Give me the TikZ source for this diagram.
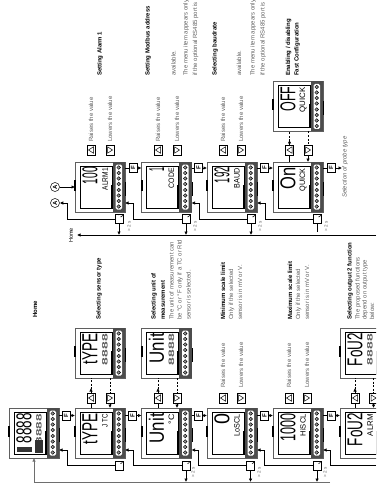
\documentclass[tikz,border=0pt]{standalone}
\usepackage{fontspec}
\setmainfont{Liberation Sans}
\usepackage{xcolor}
\usepackage{tikz}
\usetikzlibrary{arrows.meta,positioning}
\definecolor{metergrey}{RGB}{95,95,95}
\definecolor{notegrey}{RGB}{95,95,95}
\definecolor{wiregrey}{RGB}{110,110,110}
\newcommand{\tinydigits}{\textcolor{metergrey}{\textbf{8888}}}
\tikzset{
  wire/.style={line width=0.6pt, draw=black},
  flow/.style={-{Latex[length=3.5pt,width=3.5pt]}, line width=0.6pt, draw=black},
  softdash/.style={line width=0.6pt, draw=black, dash pattern=on 2pt off 1.6pt},
  softflow/.style={flow, dash pattern=on 2pt off 1.6pt},
  frame/.style={draw=metergrey, line width=1pt, fill=white, minimum size=50pt, inner sep=0pt, outer sep=0pt},
  keybox/.style={draw=black, line width=0.7pt, fill=white, minimum width=8pt, minimum height=10pt, inner sep=0pt, outer sep=0pt},
  upkey/.style={keybox, path picture={\draw[line width=0.5pt] (-2.5,0) -- (2.5,-3.2) -- (2.5,3.2) -- cycle;}},
  downkey/.style={keybox, path picture={\draw[line width=0.5pt] (2.5,0) -- (-2.5,-3.2) -- (-2.5,3.2) -- cycle;}},
  fkey/.style={keybox, font=\fontsize{6}{6}\selectfont\bfseries, rotate=90, minimum width=9pt, minimum height=8pt},
  loopkey/.style={keybox, minimum height=9pt, path picture={\draw[line width=0.6pt] (1.5,-2) arc (90:-180:2);}},
  ringmark/.style={draw=black, circle, line width=0.5pt, fill=white, minimum size=9pt, inner sep=0pt, rotate=90, font=\fontsize{6}{6}\selectfont\bfseries},
  note/.style={rotate=90, anchor=west, inner sep=0pt, font=\fontsize{6}{7}\selectfont, text=notegrey},
  heading/.style={note, text=black, font=\fontsize{6}{7}\selectfont\bfseries},
  holdnote/.style={rotate=90, inner sep=0pt, font=\fontsize{4.6}{5}\selectfont, text=notegrey}
}
% name, centre x, centre y, big text width, big text, small text width, small text
\newcommand{\meter}[7]{%
  \begin{scope}[shift={(#2,#3)}]
    \node[frame] (#1) at (0,0) {};
    \draw[line width=0.5pt] (-20,-21) rectangle (12,21);
    \fill[black] (-26,-7) rectangle (-24,4);
    \fill[black] (24,-5) rectangle (26,9);
    \fill[black] (10.8,-2) rectangle (12.4,21);
    \fill[metergrey!80!black] (12.5,-25) rectangle (25,25);
    \fill[white, rounded corners=1.5pt] (15.5,-22.5) rectangle (22,22.5);
    \foreach \k in {-19.5,-14,-8.5,-3,3,8.5,14,19.5}
      \draw[fill=black!40, line width=0.4pt] (18.7,\k) circle (1.8);
    \node[rotate=90, anchor=east, inner sep=0pt] (#1big) at (-10,-20) {\resizebox{#4pt}{15pt}{#5}};
    \node[rotate=90, anchor=east, inner sep=0pt] (#1small) at (5,-19) {\resizebox{#6pt}{5.5pt}{#7}};
  \end{scope}%
}
\begin{document}
\begin{tikzpicture}[x=1pt, y=-1pt]
  \useasboundingbox (0,0) rectangle (376,489);
  \clip (0,0) rectangle (376,489);

  % lower row
  \meter{home}{34}{433}{30}{8888}{30}{\tinydigits}
  \meter{typeset}{100}{433}{31}{tYPE}{13}{J TC}
  \meter{typeval}{100}{353}{31}{tYPE}{31}{\tinydigits}
  \meter{unitset}{166.5}{433}{30}{Unit}{10}{°C}
  \meter{unitval}{166.5}{353}{30}{Unit}{31}{\tinydigits}
  \meter{loscl}{232}{433}{11}{0}{22}{LoSCL}
  \meter{hiscl}{298}{433}{28}{1000}{22}{HiSCL}
  \meter{fouset}{365}{433}{33}{FoU2}{22}{ALRM}
  \meter{fouval}{365}{353}{33}{FoU2}{31}{\tinydigits}

  % upper row
  \meter{alarm}{100}{187}{17}{100}{22}{ALRM1}
  \meter{code}{166.5}{187}{4}{1}{20}{CODE}
  \meter{baud}{232}{187}{16}{192}{20}{BAUD}
  \meter{quick}{298}{187}{22}{On}{23}{QUICK}
  \meter{quickoff}{298}{106.5}{25}{OFF}{25}{QUICK}

  % panel of the home display
  \fill[black!80] (35,440) rectangle (43,453);
  \fill[black!80] (17,447) rectangle (32,452);

  % F keys
  \node[fkey] (fhome) at (66,415.5) {F};
  \node[fkey] (ftype) at (132.5,415.5) {F};
  \node[fkey] (funit) at (198.5,415.5) {F};
  \node[fkey] (flo) at (264.5,415.5) {F};
  \node[fkey] (fhi) at (331,415.5) {F};
  \node[fkey] (falarm) at (133,168) {F};
  \node[fkey] (fcode) at (198.5,168) {F};
  \node[fkey] (fbaud) at (264.5,168) {F};
  \node[fkey] (fquick) at (331,168) {F};
  \coordinate (quickout) at (342,168);

  \foreach \a/\f/\b in {home/fhome/typeset, typeset/ftype/unitset, unitset/funit/loscl, loscl/flo/hiscl, hiscl/fhi/fouset, alarm/falarm/code, code/fcode/baud, baud/fbaud/quick} {
    \draw[wire] (\a.east |- \f) -- (\f);
    \draw[flow] (\f) -- (\b.west |- \f);
  }
  \draw[wire] (quick.east |- fquick) -- (fquick);
  \draw[flow] (fquick) -- (quickout);

  % up and down keys
  \foreach \nm/\xa/\xb/\yy in {alarm/91/110/150, code/158/177/150, baud/223/241/150, quick/289.5/308/150, typeset/91/110/398, unitset/158/177/398, loscl/223/241/398, hiscl/289/307/398, fouset/355/373.5/398} {
    \node[upkey] (\nm up) at (\xa,\yy) {};
    \node[downkey] (\nm down) at (\xb,\yy) {};
  }
  \foreach \nm/\xa/\xb/\yy in {alarm/91/110/142, code/158/177/142, baud/223/241/142, loscl/223/241/388, hiscl/289/307/388} {
    \node[note] (\nm raise) at (\xa,\yy) {Raises the value};
    \node[note] (\nm lower) at (\xb,\yy) {Lowers the value};
  }
  \foreach \a/\b in {typeset/typeval, unitset/unitval, fouset/fouval, quick/quickoff} {
    \draw[wire] (\a up |- \a.north) -- (\a up);
    \draw[softflow] (\a up) -- ([yshift=5pt]\a up.north);
    \draw[softdash] (\a up.north) -- (\a up |- \b.south);
    \draw[softdash] (\a down |- \b.south) -- (\a down);
    \draw[flow] (\a down) -- (\a down |- \a.north);
  }

  % return keys
  \node[loopkey] (looptype) at (119,465.5) {};
  \node[loopkey] (loopunit) at (186,465.5) {};
  \node[loopkey] (looplo) at (250.5,465.5) {};
  \node[loopkey] (loophi) at (317,465.5) {};
  \node[loopkey] (loopalarm) at (119,219) {};
  \node[loopkey] (loopcode) at (186,219) {};
  \node[loopkey] (loopbaud) at (251,219) {};
  \node[loopkey] (loopquick) at (317,219) {};
  \node[ringmark] (marka) at (55,203) {A};
  \node[ringmark] (markb) at (55,187) {A};
  \coordinate (turntype) at (67,450);
  \coordinate (turnunit) at (133,450);
  \coordinate (turnlo) at (198,450);
  \coordinate (turnhi) at (264,450);
  \coordinate (turnfou) at (330,450);
  \coordinate (fouin) at (376,465.5);
  \coordinate (turnalarm) at (67,203);
  \coordinate (turncode) at (133,203);
  \coordinate (turnbaud) at (199,203);
  \coordinate (turnquick) at (265,203);
  \coordinate (busleft) at (77,235);
  \coordinate (busright) at (376,235);
  \coordinate (buslow) at (330,482);
  \coordinate (quickstem) at (317,232);

  \draw[flow] (looptype.west) -| (turntype) -- (home.east |- turntype);
  \draw[flow] (loopunit.west) -| (turnunit) -- (typeset.east |- turnunit);
  \draw[flow] (looplo.west) -| (turnlo) -- (unitset.east |- turnlo);
  \draw[flow] (loophi.west) -| (turnhi) -- (loscl.east |- turnhi);
  \draw[flow] (fouin) -| (turnfou) -- (hiscl.east |- turnfou);
  \draw[flow] (loopalarm.west) -| (turnalarm) -- (marka);
  \draw[flow] (loopcode.west) -| (turncode) -- (alarm.east |- turncode);
  \draw[flow] (loopbaud.west) -| (turnbaud) -- (code.east |- turnbaud);
  \draw[flow] (loopquick.west) -| (turnquick) -- (baud.east |- turnquick);
  \draw[flow] (markb) -- (alarm.west |- markb);

  % buses
  \draw[flow, draw=wiregrey] (buslow) -| (home.south);
  \draw[flow] (busright) -- (busleft);
  \foreach \k in {loopunit, looplo, loophi}
    \draw[flow] (\k) -- (\k |- buslow);
  \foreach \k in {loopalarm, loopcode, loopbaud}
    \draw[flow] (\k) -- (\k |- busleft);
  \draw[wire] (loopquick) -- (quickstem);

  \node[holdnote] (holdunit) at (193,472.5) {> 2 s};
  \node[holdnote] (holdlo) at (259,472.5) {> 2 s};
  \node[holdnote] (holdhi) at (325,472.5) {> 2 s};
  \node[holdnote] (holdalarm) at (129,226) {> 2 s};
  \node[holdnote] (holdcode) at (195,226) {> 2 s};
  \node[holdnote] (holdbaud) at (260,226) {> 2 s};
  \node[holdnote] (holdquick) at (326,226) {> 2 s};

  % texts
  \node[note, text=black, font=\fontsize{5.5}{6}\selectfont] (homeword) at (71,243) {Home};
  \node[heading] (hometitle) at (35,318) {Home};
  \node[heading] (typetitle) at (99,320) {Selecting sensor type};
  \node[heading] (unittitle) at (154,320) {Selecting unit of};
  \node[heading] (unittitleb) at (163,320) {measurement};
  \node[note] (unita) at (171.5,320) {The unit of measurement can};
  \node[note] (unitb) at (180,320) {be °C or °F only if a TC or Rtd};
  \node[note] (unitc) at (188.5,320) {sensor is selected.};
  \node[heading] (lotitle) at (223,320) {Minimum scale limit};
  \node[note] (loa) at (231.5,320) {Only if the selected};
  \node[note] (lob) at (240,320) {sensor is in mV or V.};
  \node[heading] (hititle) at (290,320) {Maximum scale limit};
  \node[note] (hia) at (298.5,320) {Only if the selected};
  \node[note] (hib) at (307,320) {sensor is in mV or V.};
  \node[heading] (foutitle) at (350,320) {Selecting output 2 function};
  \node[note] (foua) at (358,320) {The proposed functions};
  \node[note] (foub) at (365,320) {depend on output type};
  \node[note] (fouc) at (372,320) {below:};
  \node[heading] (alarmtitle) at (100,76) {Setting Alarm 1};
  \node[heading] (codetitle) at (148,76) {Setting Modbus address};
  \node[note] (codea) at (173.5,76) {available.};
  \node[note] (codeb) at (186,76) {The menu item appears only};
  \node[note] (codec) at (195.5,76) {if the optional RS485 port is};
  \node[heading] (baudtitle) at (215,76) {Selecting baudrate};
  \node[note] (bauda) at (239,76) {available.};
  \node[note] (baudb) at (253,76) {The menu item appears only};
  \node[note] (baudc) at (263,76) {if the optional RS485 port is};
  \node[heading] (quicktitle) at (288.5,76) {Enabling / disabling};
  \node[heading] (quicktitleb) at (297,76) {Fast Configuration};
  \node[note, font=\fontsize{6}{7}\selectfont\itshape] (probenote) at (345,198) {Selection of probe type};
\end{tikzpicture}
\end{document}
